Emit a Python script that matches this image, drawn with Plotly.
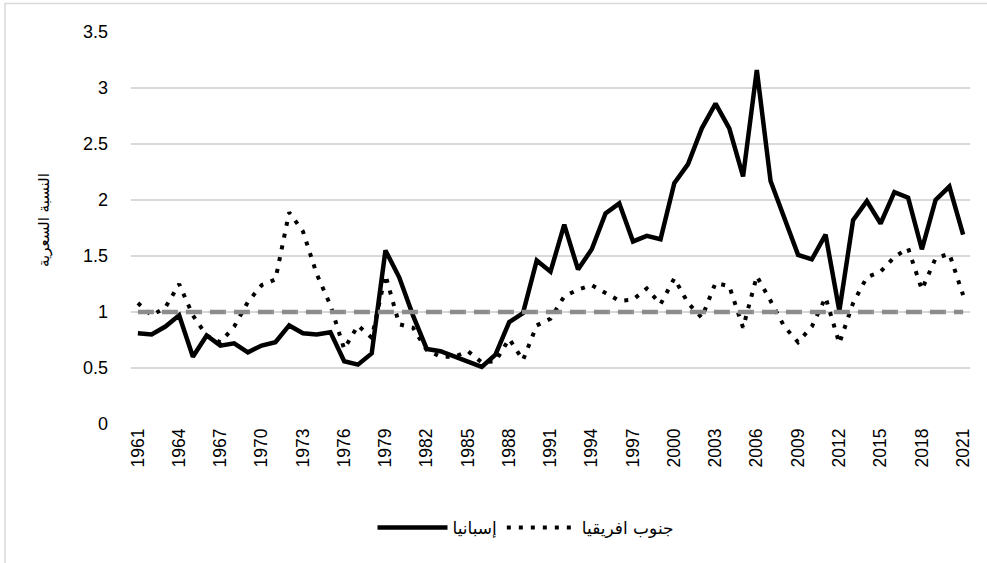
import plotly.graph_objects as go

years = [1961, 1962, 1963, 1964, 1965, 1966, 1967, 1968, 1969, 1970,
         1971, 1972, 1973, 1974, 1975, 1976, 1977, 1978, 1979, 1980,
         1981, 1982, 1983, 1984, 1985, 1986, 1987, 1988, 1989, 1990,
         1991, 1992, 1993, 1994, 1995, 1996, 1997, 1998, 1999, 2000,
         2001, 2002, 2003, 2004, 2005, 2006, 2007, 2008, 2009, 2010,
         2011, 2012, 2013, 2014, 2015, 2016, 2017, 2018, 2019, 2020, 2021]

spain = [0.81, 0.80, 0.87, 0.97, 0.60, 0.79, 0.70, 0.72, 0.64, 0.70,
         0.73, 0.88, 0.81, 0.80, 0.82, 0.56, 0.53, 0.63, 1.55, 1.31,
         0.97, 0.67, 0.65, 0.60, 0.55, 0.51, 0.62, 0.91, 0.99, 1.46,
         1.36, 1.78, 1.38, 1.56, 1.88, 1.97, 1.63, 1.68, 1.65, 2.15,
         2.32, 2.64, 2.86, 2.64, 2.21, 3.16, 2.17, 1.84, 1.51, 1.47,
         1.69, 1.01, 1.82, 1.99, 1.79, 2.07, 2.02, 1.56, 2.00, 2.12, 1.69]

south_africa = [1.08, 0.97, 1.04, 1.25, 0.97, 0.79, 0.73, 0.87, 1.09, 1.24,
                1.29, 1.89, 1.72, 1.34, 1.06, 0.67, 0.88, 0.77, 1.33, 0.89,
                0.86, 0.66, 0.60, 0.60, 0.65, 0.55, 0.56, 0.76, 0.57, 0.88,
                0.94, 1.14, 1.20, 1.24, 1.17, 1.10, 1.11, 1.21, 1.07, 1.30,
                1.08, 0.95, 1.26, 1.23, 0.86, 1.32, 1.10, 0.87, 0.73, 0.87,
                1.13, 0.72, 1.08, 1.31, 1.36, 1.49, 1.57, 1.20, 1.48, 1.52, 1.15]

parity_level = 1.0

x_tick_years = [1961, 1964, 1967, 1970, 1973, 1976, 1979, 1982, 1985, 1988,
                1991, 1994, 1997, 2000, 2003, 2006, 2009, 2012, 2015, 2018, 2021]
y_ticks = [0, 0.5, 1, 1.5, 2, 2.5, 3, 3.5]
y_tick_labels = ["0", "0.5", "1", "1.5", "2", "2.5", "3", "3.5"]

name_spain = "إسبانيا"
name_sa = "جنوب افريقيا"
y_title = "النسبة السعرية"

W, H = 987, 563
L, R, T, B = 131, 17, 32, 139
PW, PH = W - L - R, H - T - B


def px_x(p):
    return (p - L) / PW


def px_y(p):
    return (H - B - p) / PH


fig = go.Figure()

# parity reference line (dashed gray) drawn in data coordinates
fig.add_shape(type="line", xref="x", yref="y",
              x0=years[0], x1=years[-1], y0=parity_level, y1=parity_level,
              line=dict(color="#8c8c8c", width=4.5, dash="16px,8px"), layer="above")

fig.add_trace(go.Scatter(x=years, y=spain, mode="lines", name=name_spain,
                         line=dict(color="black", width=4.5)))
fig.add_trace(go.Scatter(x=years, y=south_africa, mode="lines", name=name_sa,
                         line=dict(color="black", width=4, dash="4px,8px")))

# chart border
fig.add_shape(type="rect", xref="paper", yref="paper",
              x0=px_x(5), x1=px_x(1010), y0=px_y(620), y1=px_y(3.5),
              line=dict(color="#d9d9d9", width=1.5), layer="below")

fig.add_annotation(text=y_title, xref="paper", yref="paper",
                   x=px_x(33), y=px_y(220),
                   textangle=-90, showarrow=False,
                   font=dict(family="DejaVu Sans, Liberation Sans", size=15, color="black"))

fig.update_layout(
    width=W, height=H,
    margin=dict(l=L, r=R, t=T, b=B),
    paper_bgcolor="white", plot_bgcolor="white",
    font=dict(family="Liberation Sans, Arial, sans-serif", size=17, color="black"),
    showlegend=True,
    legend=dict(orientation="h", x=px_x(526), xanchor="center", y=px_y(528), yanchor="middle",
                font=dict(family="DejaVu Sans, Liberation Sans", size=17, color="black"),
                itemwidth=70, bgcolor="rgba(0,0,0,0)"),
    xaxis=dict(range=[1960.5, 2021.5], tickmode="array", tickvals=x_tick_years,
               ticktext=[str(v) for v in x_tick_years], tickangle=-90,
               showgrid=False, zeroline=False, showline=False, ticks="",
               tickfont=dict(size=17.5)),
    yaxis=dict(range=[0, 3.5], tickmode="array", tickvals=y_ticks,
               ticktext=y_tick_labels,
               showgrid=True, gridcolor="#d9d9d9", gridwidth=1.5,
               zeroline=False, showline=False, ticks="",
               ticklabelstandoff=22,
               tickfont=dict(size=18)),
)

fig.write_html("out.html", config={"displayModeBar": False},
               post_script="document.body.style.margin='0px';")
